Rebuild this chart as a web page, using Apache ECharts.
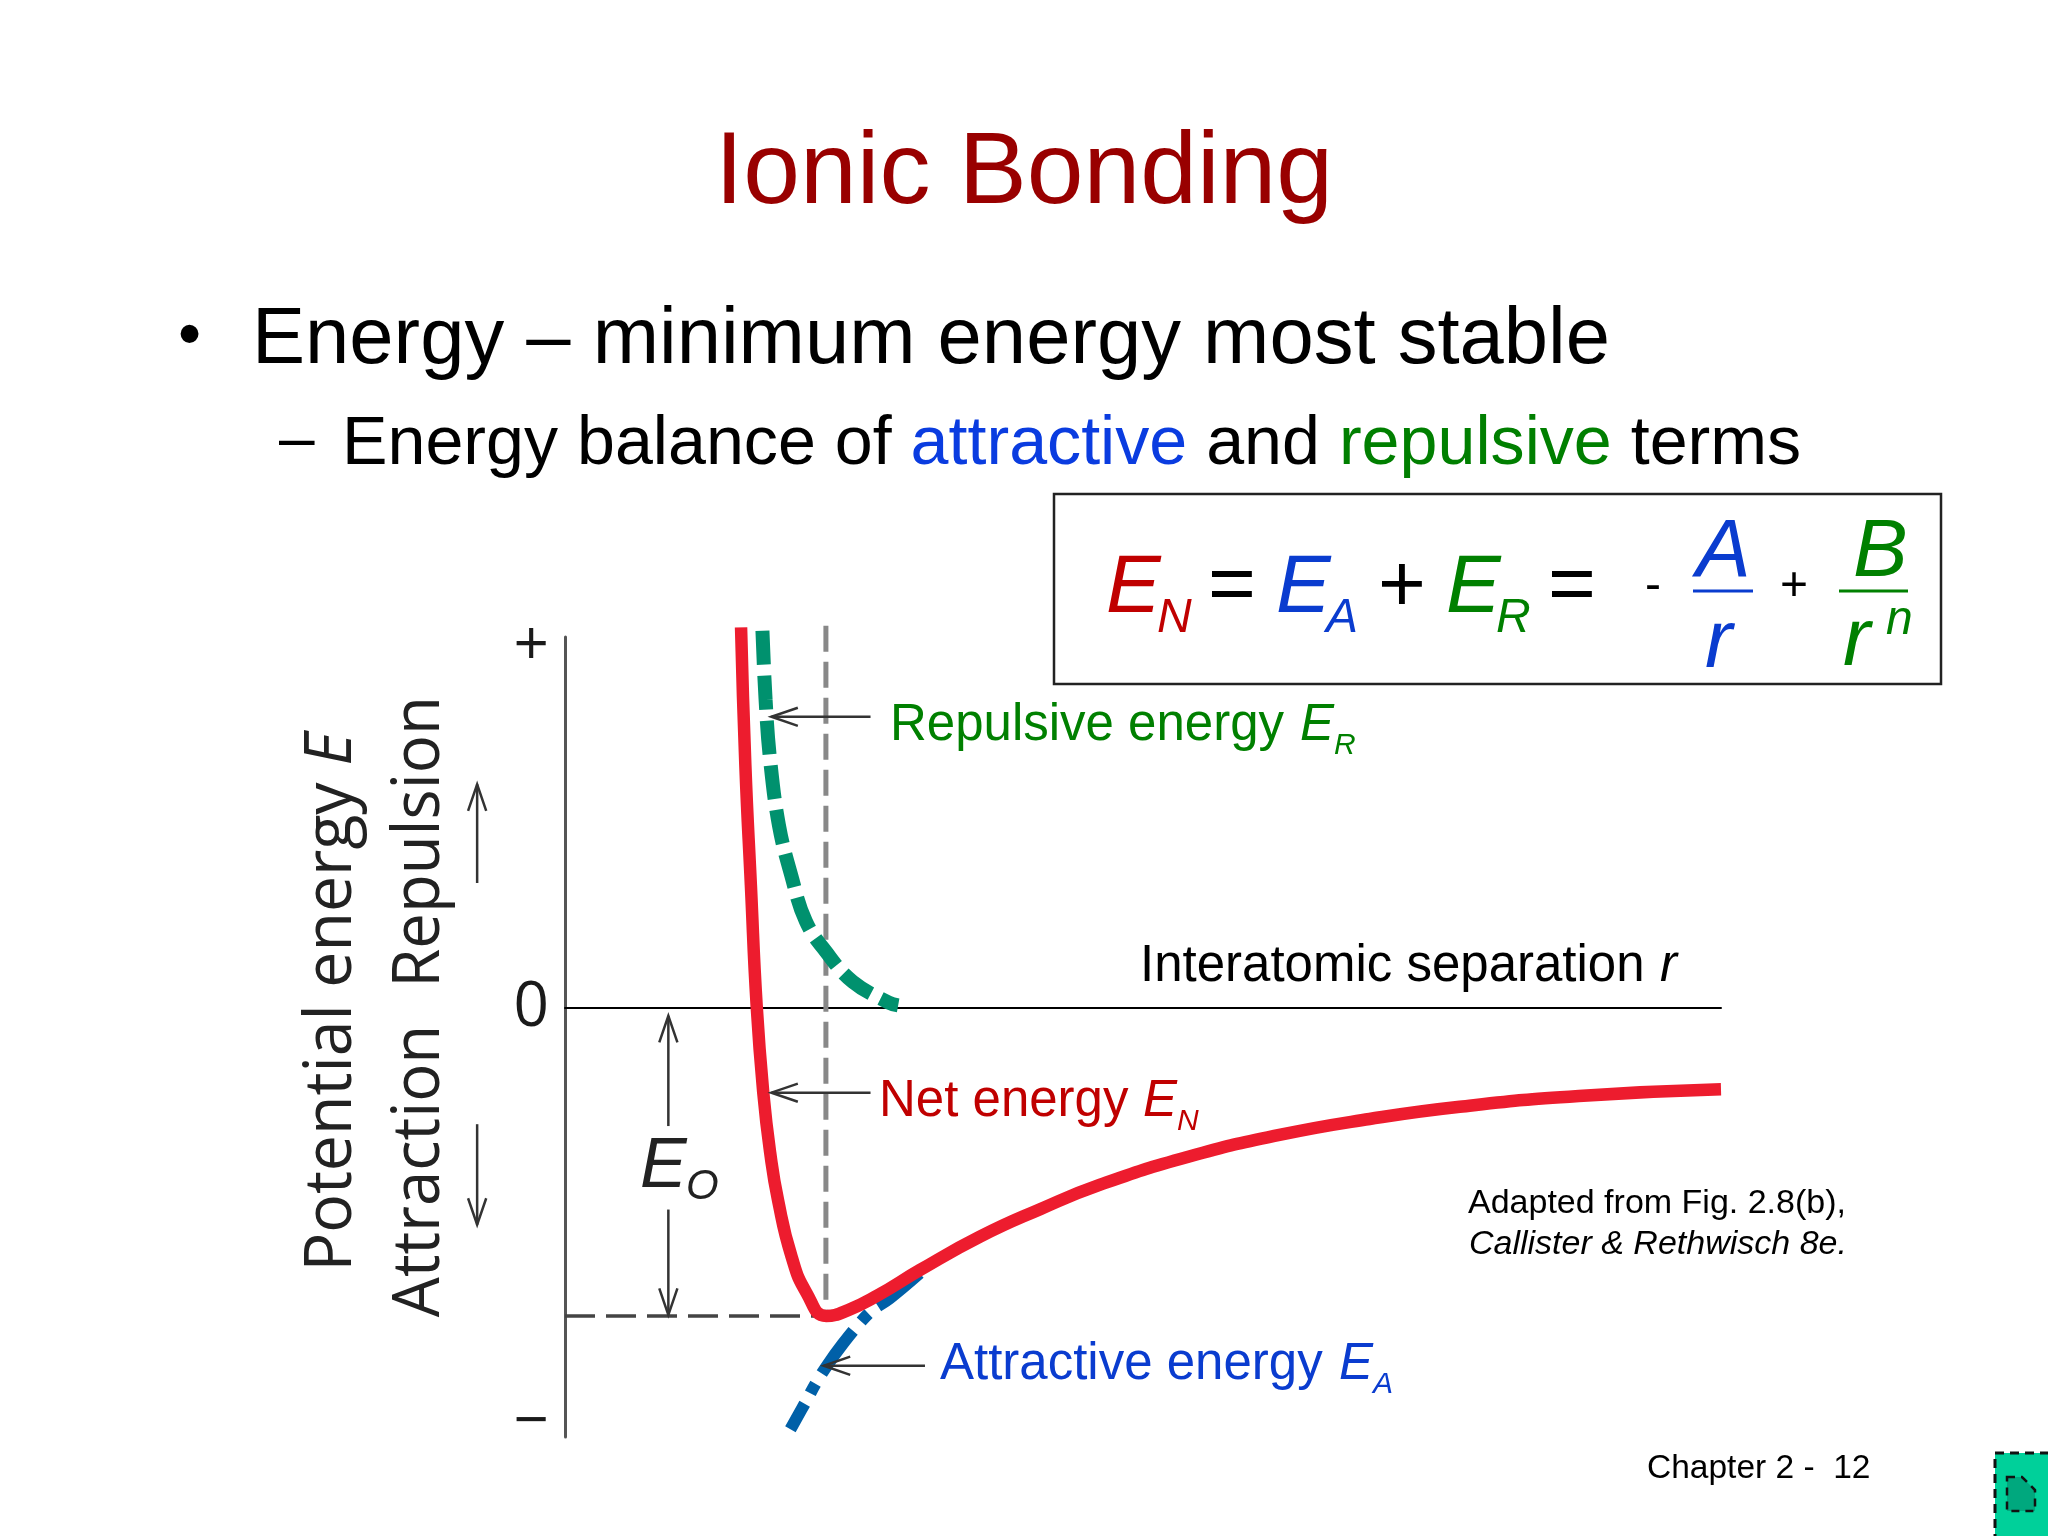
<!DOCTYPE html>
<html><head><meta charset="utf-8">
<style>html,body{margin:0;padding:0;background:#fff}#c{width:2048px;height:1536px}</style>
<script src="https://cdn.jsdelivr.net/npm/echarts@6/dist/echarts.min.js"></script>
</head><body><div id="c"></div>
<script>
// Values. r: axis runs 0..100; E: zero line at 0, "+" end at 100.
const netEnergy = [[15.23,102.6],[15.6,65.6],[16.08,33.1],[16.58,0.6],[17.16,-23.1],[17.75,-39],[18.43,-51.8],[19.6,-67],[20.9,-76.8],[22.6,-83],[24.5,-81.4],[27.07,-77.4],[30.7,-70.6],[35.9,-61.6],[41.1,-54.2],[46.3,-47.6],[54.0,-40],[61.8,-34.2],[69.6,-29.9],[77.4,-26.6],[87.7,-23.7],[100,-21.9]];
const repulsiveEnergy = [[17.08,101.7],[17.35,83.2],[17.74,67],[18.51,49.2],[19.56,35.9],[20.83,23.4],[22.57,15.2],[24.89,7.1],[27.98,1.5],[28.82,0.7]];
const attractiveEnergy = [[19.5,-113.5],[20.9,-105.7],[21.7,-101.1],[22.7,-96.2],[24.0,-90.6],[25.5,-84.9],[26.6,-81.4],[28.1,-78.2],[30.7,-71.4]];
const minimumGuideV = [[22.57,103],[22.57,-83]];
const minimumGuideH = [[0,-83],[22.57,-83]];
const arrows = [[26.43,78.5,17.85,78.5],[26.43,-22.8,17.85,-22.8],[31.14,-96.4,22.38,-96.4],[8.94,-31.8,8.94,-2.1],[8.94,-54.3,8.94,-82.7],[-7.6,33.7,-7.6,60.3],[-7.6,-31.3,-7.6,-58.4]];
const yTickValues = [-111.8,0,97.3];
const yTickLabels = ['\u2212','0','+'];
const titleText = 'Ionic Bonding';

const RED='#c00000',BLUE='#0a3ccf',GREEN='#008000',AR='"Liberation Sans",Arial,sans-serif',OS='"Open Sans",sans-serif';
function t(x,b,text,size,color,it,anchor){return {type:'text',silent:true,x:x,y:b-0.27*size,style:{text:text,fill:color||'#000',textVerticalAlign:'middle',textAlign:anchor||'left',font:(it?'italic ':'')+size+'px '+AR}};}
function rot(x,y,text,size,sx,rich){return {type:'text',silent:true,x:x,y:y,rotation:Math.PI/2,scaleX:sx,style:{text:text,fill:'#222',textAlign:'center',textVerticalAlign:'middle',font:size+'px '+OS,rich:rich}};}
function rule(x1,x2,y,c){return {type:'line',silent:true,shape:{x1:x1,y1:y,x2:x2,y2:y},style:{stroke:c,lineWidth:3}};}

const graphics=[
 {type:'text',silent:true,x:252,y:341,style:{text:'Energy \u2013 minimum energy most stable',fill:'#000',textVerticalAlign:'middle',font:'79.6px '+AR}},
 t(178,356,'\u2022',66),
 t(279,459,'\u2013',64),
 {type:'text',silent:true,x:342,y:445,style:{text:'{k|Energy balance of }{u|attractive}{k| and }{g|repulsive}{k| terms}',textVerticalAlign:'middle',rich:{k:{font:'68.2px '+AR,fill:'#000'},u:{font:'68.2px '+AR,fill:'#0a3ce0'},g:{font:'68.2px '+AR,fill:'#007f00'}}}},
 {type:'rect',silent:true,shape:{x:1054,y:494,width:887,height:190},style:{fill:'none',stroke:'#222',lineWidth:2.5}},
 t(1106,611,'E',82,RED,1),t(1157,632,'N',48,RED,1),
 t(1208,611,'=',82,'#000'),
 t(1276,611,'E',82,BLUE,1),t(1326,632,'A',48,BLUE,1),
 t(1378,611,'+',82,'#000'),
 t(1446,611,'E',82,GREEN,1),t(1496,632,'R',48,GREEN,1),
 t(1548,611,'=',82,'#000'),
 t(1645,600,'-',48,'#000'),
 t(1696,575,'A',82,BLUE,1),rule(1693,1753,591,BLUE),t(1705,666,'r',82,BLUE,1),
 t(1780,600,'+',48,'#000'),
 t(1853,575,'B',82,GREEN,1),rule(1839,1908,591,GREEN),t(1843,664,'r',82,GREEN,1),t(1886,634,'n',48,GREEN,1),
 t(890,740,'Repulsive energy ',51,GREEN),t(1300,740,'E',51,GREEN,1),t(1334,754,'R',30,GREEN,1),
 t(879,1116,'Net energy ',51,RED),t(1143,1116,'E',51,RED,1),t(1177,1130,'N',30,RED,1),
 t(940,1379,'Attractive energy ',51,BLUE),t(1339,1379,'E',51,BLUE,1),t(1373,1393,'A',30,BLUE,1),
 t(1140,981,'Interatomic separation ',51,'#000'),t(1660,981,'r',51,'#000',1),
 t(1468,1213,'Adapted from Fig. 2.8(b),',34,'#000'),
 t(1469,1254,'Callister & Rethwisch 8e.',34,'#000',1),
 t(1647,1478,'Chapter 2 -  12',33.5,'#000'),
 {type:'text',silent:true,x:640,y:1203,style:{text:'E',fill:'#222',textVerticalAlign:'bottom',font:'italic 70px '+AR}},
 {type:'text',silent:true,x:686,y:1208,style:{text:'O',fill:'#222',textVerticalAlign:'bottom',font:'italic 42px '+AR}},
 rot(332,1002,'{n|Potential energy }{i|E}',65,0.99,{n:{font:'65px '+OS,fill:'#222'},i:{font:'italic 65px '+OS,fill:'#222'}}),
 rot(420,842,'Repulsion',65,0.975),
 rot(420,1171,'Attraction',65,0.975),
 {type:'rect',silent:true,shape:{x:1995,y:1453,width:60,height:90},style:{fill:'#00d09a',stroke:'#111',lineWidth:3,lineDash:[9,6]}},
 {type:'polygon',silent:true,shape:{points:[[2007,1477],[2022,1477],[2035,1490],[2035,1511],[2007,1511]]},style:{fill:'#00a87e',stroke:'#111',lineWidth:2.5,lineDash:[8,6]}}
];

function renderArrow(params,api){
 const a=api.coord([api.value(0),api.value(1)]),b=api.coord([api.value(2),api.value(3)]);
 const ang=Math.atan2(b[1]-a[1],b[0]-a[0]),L=28,W=0.33;
 const p=s=>[b[0]-L*Math.cos(ang+s*W),b[1]-L*Math.sin(ang+s*W)];
 const st={stroke:'#333',lineWidth:2.5,fill:'none'};
 return {type:'group',children:[
  {type:'line',shape:{x1:a[0],y1:a[1],x2:b[0],y2:b[1]},style:st},
  {type:'polyline',shape:{points:[p(1),b,p(-1)]},style:st}]};
}
function curve(data,color,width,type,smooth,z,off){return {type:'line',data:data,showSymbol:false,symbol:'none',smooth:smooth,clip:false,z:z,silent:true,animation:false,lineStyle:{color:color,width:width,type:type,dashOffset:off||0,cap:'butt'}};}

const chart=echarts.init(document.getElementById('c'),null,{renderer:'canvas',width:2048,height:1536});
chart.setOption({
 animation:false,backgroundColor:'#fff',
 title:{text:titleText,left:1019,top:119,textAlign:'center',textStyle:{color:'#990000',fontWeight:'normal',fontSize:102,fontFamily:AR}},
 grid:{left:565,top:637,width:1156,height:800,containLabel:false},
 xAxis:{type:'value',min:0,max:100,axisLine:{onZero:true,lineStyle:{color:'#000',width:2}},axisTick:{show:false},axisLabel:{show:false},splitLine:{show:false}},
 yAxis:{type:'value',min:-115.6,max:100,axisLine:{show:true,lineStyle:{color:'#555',width:3}},axisTick:{show:false},splitLine:{show:false},
  axisLabel:{show:true,customValues:yTickValues,margin:16,color:'#1a1a1a',fontSize:62,fontFamily:OS,formatter:v=>yTickLabels[yTickValues.indexOf(v)]}},
 series:[
  curve(minimumGuideV,'#888',5,[26,10],false,2),
  curve(minimumGuideH,'#444',3.5,[30,11],false,2),
  curve(attractiveEnergy,'#0060a8',12,[53,12,11,12],0.4,3,24),
  curve(repulsiveEnergy,'#00916e',14,[34,11],0.4,3),
  curve(netEnergy,'#ed1c2e',12.5,'solid',0.5,4),
  {type:'custom',coordinateSystem:'cartesian2d',clip:false,silent:true,z:5,renderItem:renderArrow,encode:{x:[0,2],y:[1,3]},data:arrows}
 ],
 graphic:{elements:graphics}
});
</script></body></html>
